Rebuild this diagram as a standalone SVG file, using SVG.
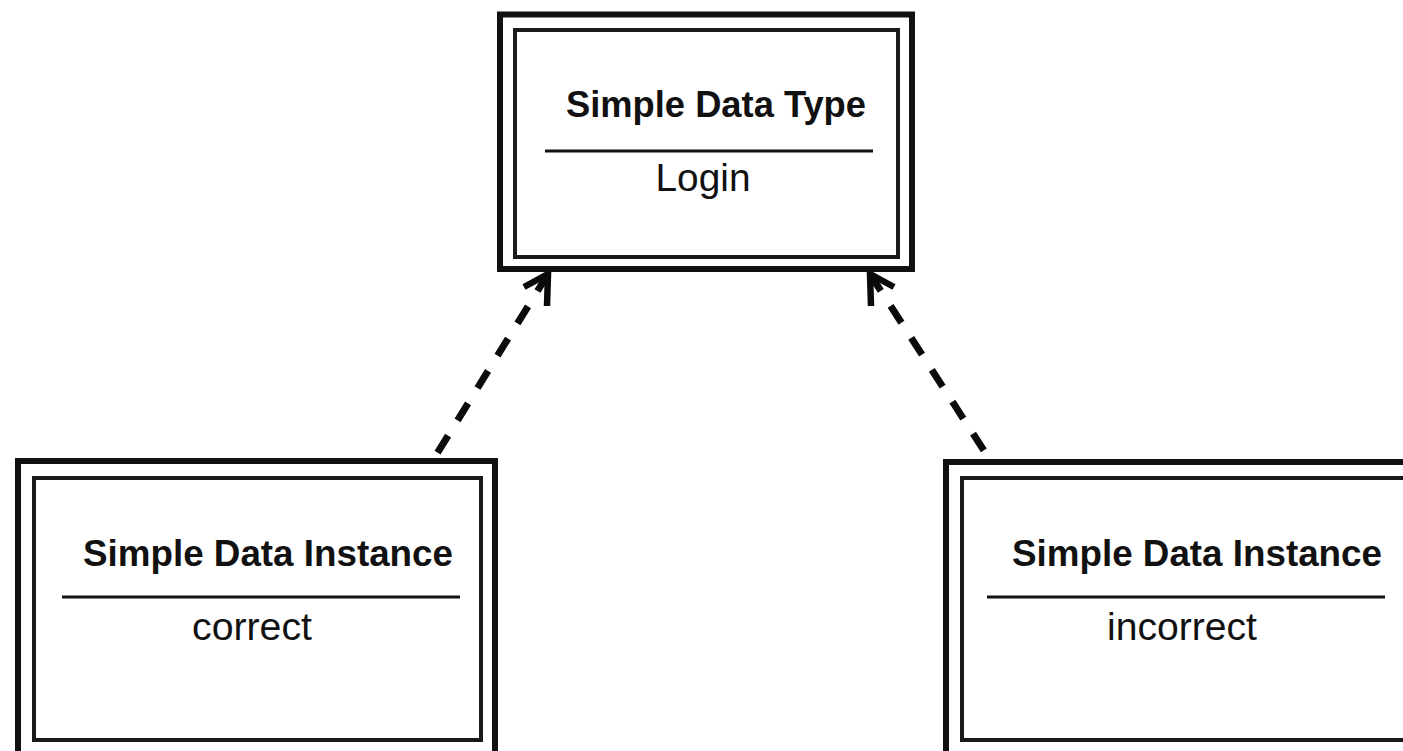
<svg xmlns="http://www.w3.org/2000/svg" width="1403" height="751" viewBox="0 0 1403 751">
  <style>
    .outer { fill: #ffffff; stroke: #111111; stroke-width: 6; }
    .inner { fill: none; stroke: #1a1a1a; stroke-width: 4; }
    .rule { stroke: #111111; stroke-width: 3; }
    .title { font-family: "Liberation Sans", Arial, Helvetica, sans-serif; font-weight: bold; font-size: 36px; fill: #111111; }
    .value { font-family: "Liberation Sans", Arial, Helvetica, sans-serif; font-size: 38px; fill: #111111; }
    .dep { fill: none; stroke: #0a0a0a; stroke-width: 7; stroke-dasharray: 20 18; }
    .head { fill: none; stroke: #0a0a0a; stroke-width: 6.5; stroke-linecap: butt; stroke-linejoin: miter; }
  </style>

  <!-- dependency connectors (instances to type) -->
  <g id="connectors">
    <line class="dep" x1="548" y1="274" x2="433" y2="460"/>
    <polyline class="head" points="524,287 548,274 547,306"/>
    <line class="dep" x1="870" y1="274" x2="990" y2="460"/>
    <polyline class="head" points="894,287 870,274 871,306"/>
  </g>

  <!-- type node -->
  <g id="node-type">
    <rect class="outer" x="500" y="14.5" width="412" height="254.5"/>
    <rect class="inner" x="515" y="30" width="383" height="227"/>
    <text class="title" x="716" y="117" text-anchor="middle" textLength="300" lengthAdjust="spacingAndGlyphs">Simple Data Type</text>
    <line class="rule" x1="545" y1="151" x2="873" y2="151"/>
    <text class="value" x="703" y="191" text-anchor="middle" textLength="95" lengthAdjust="spacingAndGlyphs">Login</text>
  </g>

  <!-- instance node: correct -->
  <g id="node-correct">
    <rect class="outer" x="18" y="461" width="477" height="310"/>
    <rect class="inner" x="34" y="478" width="447" height="262"/>
    <text class="title" x="268" y="566" text-anchor="middle" textLength="370" lengthAdjust="spacingAndGlyphs">Simple Data Instance</text>
    <line class="rule" x1="62" y1="597" x2="460" y2="597"/>
    <text class="value" x="252" y="640" text-anchor="middle" textLength="120" lengthAdjust="spacingAndGlyphs">correct</text>
  </g>

  <!-- instance node: incorrect -->
  <g id="node-incorrect">
    <rect class="outer" x="946" y="462" width="477" height="310"/>
    <rect class="inner" x="962" y="478" width="447" height="262"/>
    <text class="title" x="1197" y="566" text-anchor="middle" textLength="370" lengthAdjust="spacingAndGlyphs">Simple Data Instance</text>
    <line class="rule" x1="987" y1="597" x2="1385" y2="597"/>
    <text class="value" x="1182" y="640" text-anchor="middle" textLength="150" lengthAdjust="spacingAndGlyphs">incorrect</text>
  </g>
</svg>
